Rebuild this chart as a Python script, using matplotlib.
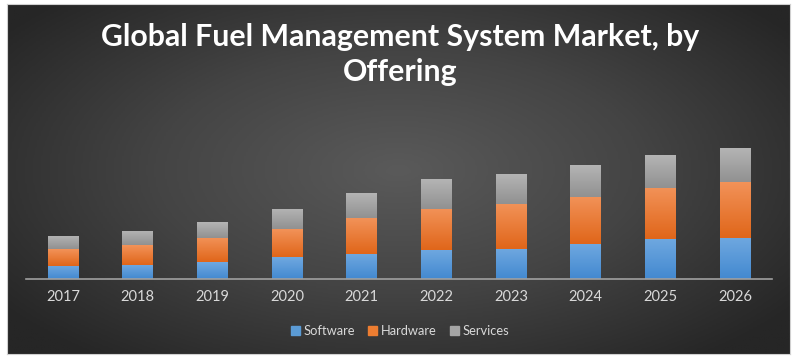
import numpy as np
import matplotlib
matplotlib.use("Agg")
import matplotlib.pyplot as plt
from matplotlib.colors import LinearSegmentedColormap
from matplotlib.patches import Rectangle

# --- data ---
years = ["2017", "2018", "2019", "2020", "2021", "2022", "2023", "2024", "2025", "2026"]
software = [13.3, 14.6, 17.0, 22.0, 25.6, 29.3, 30.3, 35.3, 40.3, 41.6]
hardware = [17.0, 19.4, 24.6, 28.0, 35.7, 41.3, 45.3, 47.0, 51.0, 55.7]
services = [13.3, 14.6, 15.7, 20.6, 25.0, 29.4, 30.0, 32.0, 32.7, 33.7]
series_names = ["Software", "Hardware", "Services"]

# light top / dark bottom for each series
colors = {
    "Software": ("#6fa8e0", "#4389d0"),
    "Hardware": ("#f29258", "#e0661a"),
    "Services": ("#b4b4b4", "#919191"),
}
legend_colors = {"Software": "#5b9bd5", "Hardware": "#ed7d31", "Services": "#a5a5a5"}

fig = plt.figure(figsize=(8, 3.63), dpi=100)
fig.patch.set_facecolor("white")

# --- dark panel with radial gradient ---
bg = fig.add_axes([7 / 800, 9 / 363, 783 / 800, 350 / 363])
nx, ny = 400, 180
xx, yy = np.meshgrid(np.linspace(-1, 1, nx), np.linspace(-1, 1, ny))
r = np.sqrt((xx / 1.0) ** 2 + ((yy + 0.05) / 1.1) ** 2)
r = np.clip(r / 1.25, 0, 1)
bg_cmap = LinearSegmentedColormap.from_list("bg", ["#5a5a5a", "#444444", "#262626"])
bg.imshow(r, cmap=bg_cmap, aspect="auto", extent=[0, 1, 0, 1], vmin=0, vmax=1)
bg.set_xlim(0, 1)
bg.set_ylim(0, 1)
for s in bg.spines.values():
    s.set_edgecolor("#d0d0d0")
    s.set_linewidth(0.8)
bg.set_xticks([])
bg.set_yticks([])

# --- title ---
title_kw = dict(ha="center", va="center", color="white", fontsize=21.8, fontweight="bold", family="Lato")
fig.text(0.5, 1 - 37 / 363, "Global Fuel Management System Market, by", **title_kw)
fig.text(0.5, 1 - 72 / 363, "Offering", **title_kw)

# --- bars ---
ax = fig.add_axes([25.5 / 800, (363 - 279.3) / 363, (772.3 - 25.5) / 800, 179.3 / 363])
ax.set_facecolor("none")
x = np.arange(len(years))
width = 0.41

bottoms = np.zeros(len(years))
for name, vals in zip(series_names, [software, hardware, services]):
    bars = ax.bar(x, vals, width, bottom=bottoms, color=legend_colors[name], label=name,
                  edgecolor="none", zorder=2)
    top_c, bot_c = colors[name]
    cm = LinearSegmentedColormap.from_list(name, [bot_c, top_c])
    grad = np.linspace(0, 1, 50).reshape(-1, 1)
    for b in bars:
        bx, by, bw, bh = b.get_x(), b.get_y(), b.get_width(), b.get_height()
        im = ax.imshow(grad, cmap=cm, aspect="auto", origin="lower",
                       extent=[bx, bx + bw, by, by + bh], zorder=3)
        im.set_clip_path(b)
    bottoms += np.array(vals)

ax.set_xlim(-0.5, len(years) - 0.5)
ax.set_ylim(0, 179.3)
ax.set_xticks(x)
ax.set_xticklabels(years, color="#d9d9d9", fontsize=10.5, family="Lato")
ax.tick_params(axis="x", length=0, pad=8)
ax.set_yticks([])
for side in ["top", "left", "right"]:
    ax.spines[side].set_visible(False)
ax.spines["bottom"].set_color("#a0a0a0")
ax.spines["bottom"].set_linewidth(1.2)
ax.spines["bottom"].set_zorder(4)

# --- legend ---
handles = [Rectangle((0, 0), 1, 1, color=legend_colors[n]) for n in series_names]
leg = fig.legend(handles, series_names, loc="center", bbox_to_anchor=(0.5, 1 - 330.7 / 363),
                 ncol=3, frameon=False, handlelength=0.7, handleheight=0.7,
                 handletextpad=0.3, columnspacing=1.0, prop={"family": "Lato", "size": 9.3})
for t in leg.get_texts():
    t.set_color("#d9d9d9")

fig.savefig("out.png", dpi=100)
